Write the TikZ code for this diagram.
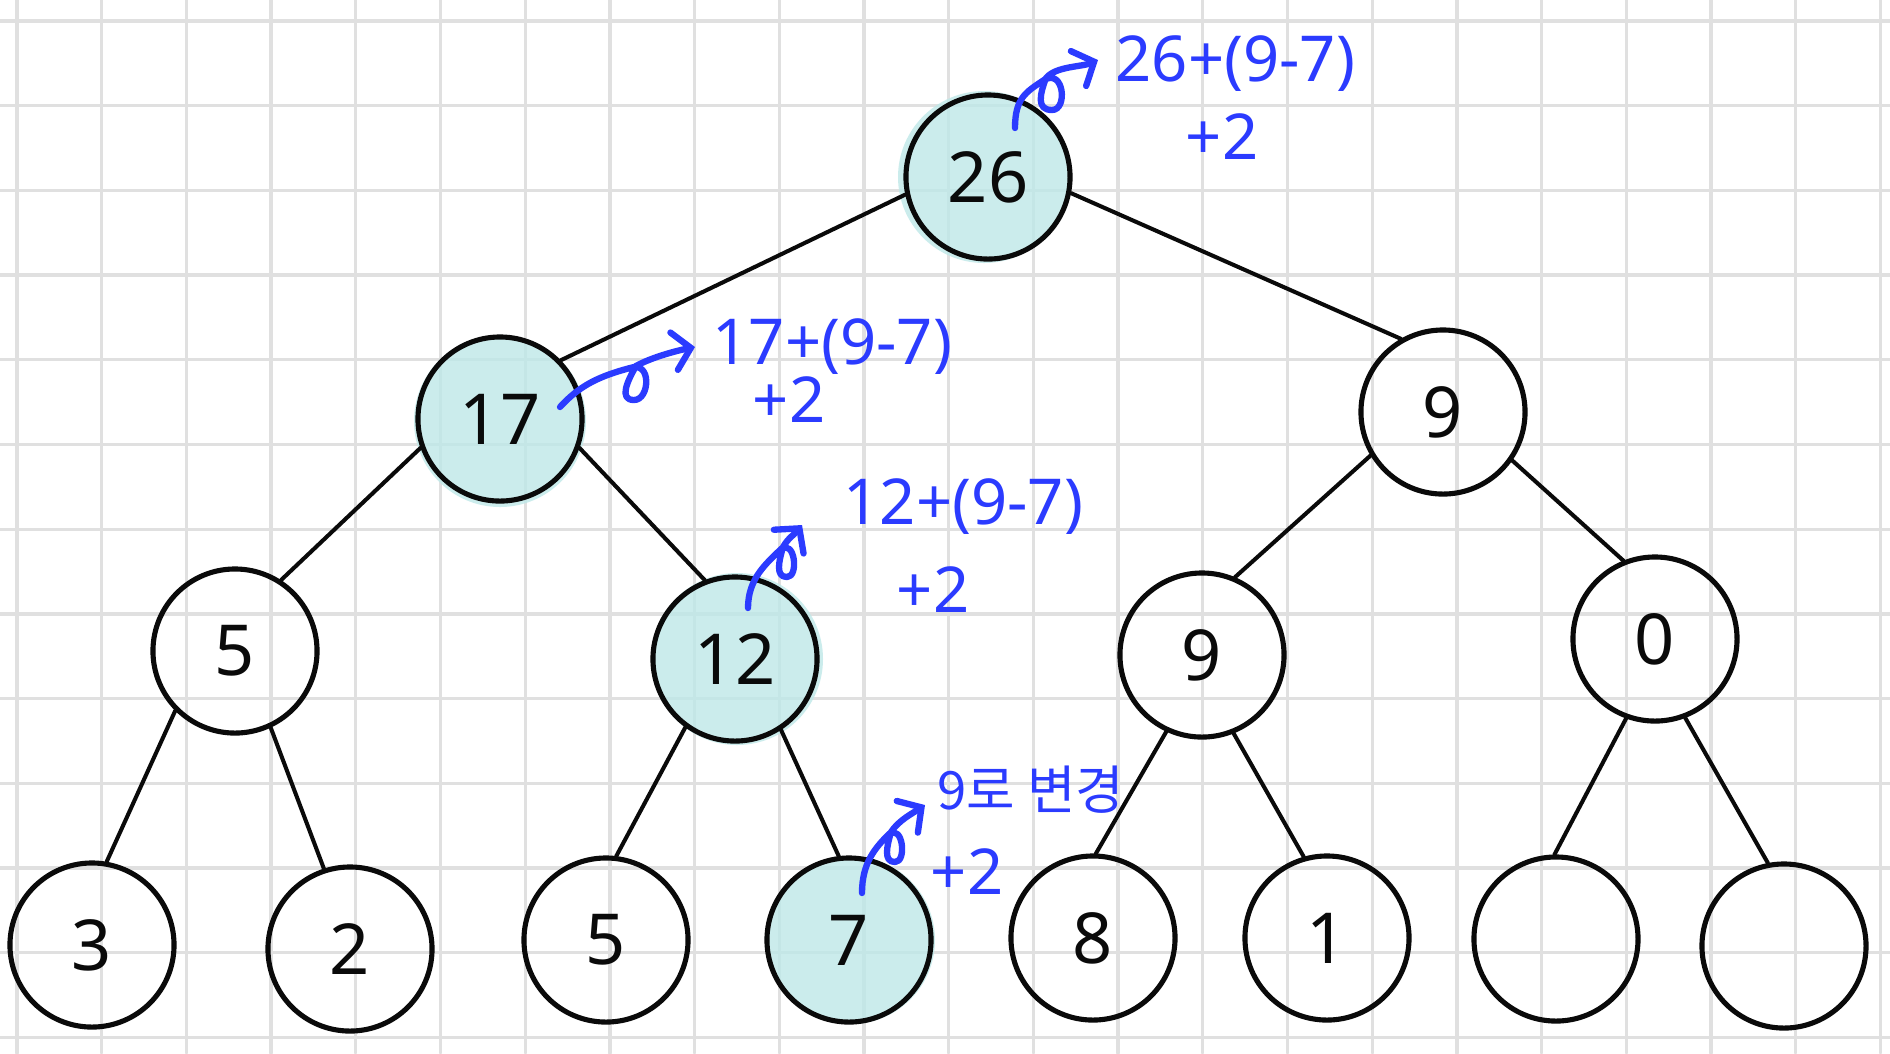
\documentclass[tikz,border=0pt]{standalone}
\usepackage{fontspec}
\setmainfont{Noto Sans}
\newfontfamily\krfont{Noto Sans CJK KR}
\usetikzlibrary{arrows.meta}
\definecolor{TreeInk}{gray}{0.04}
\definecolor{TreeGrid}{gray}{0.88}
\definecolor{TreeHit}{RGB}{190,232,232}
\definecolor{TreeNote}{RGB}{43,59,255}
\tikzset{
    tree/diagram/.style={
        x=0.01cm, y=-0.01cm,
        line cap=round,
        line join=round
    },
    tree/grid/.style={draw=TreeGrid, line width=0.95pt},
    tree/node/.style={
        circle, draw=TreeInk, line width=1.45pt,
        minimum size=1.64cm, inner sep=0pt,
        text=TreeInk, font=\fontsize{20}{24}\selectfont
    },
    tree/hit/.style={fill=TreeHit, fill opacity=0.8},
    tree/edge/.style={draw=TreeInk, line width=1.15pt},
    tree/note/.style={
        text=TreeNote, inner sep=0pt,
        font=\fontsize{18}{21}\selectfont
    },
    tree/curl/.style={
        draw=TreeNote, line width=1.8pt,
        -{Straight Barb[length=1.7mm, width=3.8mm, line cap=round]}
    }
}
\begin{document}
\begin{tikzpicture}[tree/diagram]
    \useasboundingbox (0,0) rectangle (1890,1053);
    \fill[white] (0,0) rectangle (1890,1053);
    % squared paper
    \foreach \gx in {0,...,22}
        \draw[tree/grid] ({17+84.7*\gx},0) -- ({17+84.7*\gx},1053);
    \foreach \gy in {0,...,12}
        \draw[tree/grid] (0,{21+84.7*\gy}) -- (1890,{21+84.7*\gy});
    % nodes touched by the update
    \fill[tree/hit] (984,177) circle[radius=86];
    \fill[tree/hit] (500,421) circle[radius=86];
    \fill[tree/hit] (737,659) circle[radius=86];
    \fill[tree/hit] (851,940) circle[radius=84];
    % segment tree
    \node[tree/node] (n26) at (988,177) {26};
    \node[tree/node] (n17) at (500,419) {17};
    \node[tree/node] (n9a) at (1443,412) {9};
    \node[tree/node] (n5a) at (235,651) {5};
    \node[tree/node] (n12) at (735,659) {12};
    \node[tree/node] (n9b) at (1202,655) {9};
    \node[tree/node] (n0) at (1655,639) {0};
    \node[tree/node] (n3) at (92,945) {3};
    \node[tree/node] (n2) at (350,949) {2};
    \node[tree/node] (n5b) at (606,940) {5};
    \node[tree/node] (n7) at (849,940) {7};
    \node[tree/node] (n8) at (1093,938) {8};
    \node[tree/node] (n1) at (1327,938) {1};
    \node[tree/node] (e1) at (1556,939) {};
    \node[tree/node] (e2) at (1784,946) {};
    \draw[tree/edge] (n26.192) -- (n17.44);
    \draw[tree/edge] (n26.349) -- (n9a.120);
    \draw[tree/edge] (n17.200) -- (n5a.57);
    \draw[tree/edge] (n17.340) -- (n12.111);
    \draw[tree/edge] (n9a.211) -- (n9b.67);
    \draw[tree/edge] (n9a.325) -- (n0.112);
    \draw[tree/edge] (n5a.225) -- (n3.80);
    \draw[tree/edge] (n5a.295) -- (n2.108);
    \draw[tree/edge] (n12.234) -- (n5b.83);
    \draw[tree/edge] (n12.303) -- (n7.97);
    \draw[tree/edge] (n9b.245) -- (n8.88);
    \draw[tree/edge] (n9b.292) -- (n1.106);
    \draw[tree/edge] (n0.250) -- (e1.91);
    \draw[tree/edge] (n0.291) -- (e2.101);
    % blue notes
    \node[tree/note, anchor=west] (m26) at (1115,64) {26+(9-7)};
    \node[tree/note] (q26) at (1222,137) {+2};
    \node[tree/note, anchor=west] (m17) at (712,347) {17+(9-7)};
    \node[tree/note] (q17) at (789,400) {+2};
    \node[tree/note, anchor=west] (m12) at (843,507) {12+(9-7)};
    \node[tree/note] (q12) at (933,590) {+2};
    \node[tree/note, anchor=west, font=\krfont\fontsize{15}{18}\selectfont]
        (m7) at (937,790) {9로 변경};
    \node[tree/note] (q7) at (967,872) {+2};
    \coordinate (s26) at (1015,128);
    \coordinate (p26) at (1044,80);
    \coordinate (t26) at (1098,60);
    \coordinate (s17) at (560,407);
    \coordinate (p17) at (630,368);
    \coordinate (t17) at (695,347);
    \coordinate (s12) at (748,608);
    \coordinate (p12) at (781,549);
    \coordinate (t12) at (802,525);
    \coordinate (s7) at (862,893);
    \coordinate (p7) at (889,834);
    \coordinate (t7) at (925,805);
    \draw[tree/curl] (s26) .. controls +(0,-30) and +(-18,12) .. (p26)
        .. controls +(20,-12) and +(16,0) .. ++(8,30)
        .. controls +(-16,0) and +(-6,16) .. ++(-6,-32)
        .. controls +(10,-12) and +(-16,7) .. (t26);
    \draw[tree/curl] (s17) .. controls +(20,-22) and +(-30,8) .. (p17)
        .. controls +(22,-8) and +(16,0) .. ++(4,32)
        .. controls +(-16,0) and +(-8,14) .. ++(2,-34)
        .. controls +(14,-8) and +(-20,4) .. (t17);
    \draw[tree/curl] (s12) .. controls +(0,-30) and +(-14,14) .. (p12)
        .. controls +(14,-10) and +(12,0) .. ++(6,28)
        .. controls +(-12,0) and +(-4,14) .. ++(-4,-30)
        .. controls +(6,-10) and +(-8,10) .. (t12);
    \draw[tree/curl] (s7) .. controls +(0,-30) and +(-14,14) .. (p7)
        .. controls +(14,-10) and +(12,0) .. ++(6,28)
        .. controls +(-12,0) and +(-4,14) .. ++(-4,-30)
        .. controls +(8,-12) and +(-12,8) .. (t7);
\end{tikzpicture}
\end{document}
